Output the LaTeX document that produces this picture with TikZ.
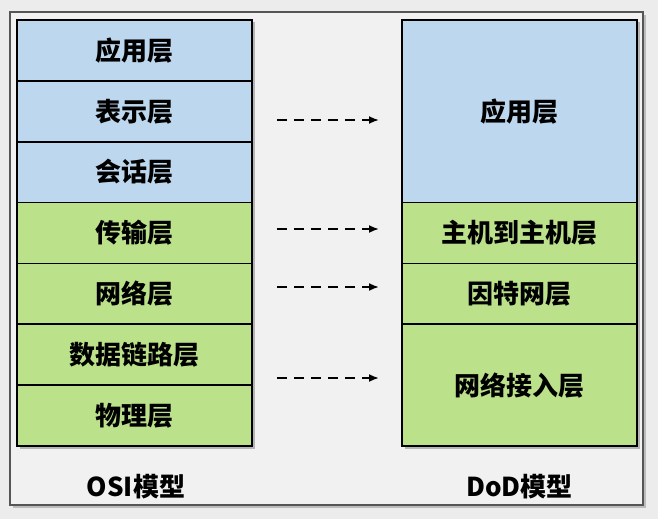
\documentclass[tikz,border=0pt]{standalone}
\usepackage{fontspec}
\setmainfont{Noto Sans CJK SC}[BoldFont={Noto Sans CJK SC Black}]
\usetikzlibrary{arrows.meta}
\definecolor{bluefill}{RGB}{189,215,238}
\definecolor{greenfill}{RGB}{187,226,138}
\definecolor{pagebg}{RGB}{236,236,236}
\definecolor{framebg}{RGB}{241,241,241}
\definecolor{frameline}{RGB}{85,85,85}
\tikzset{
  layer/.style={draw=black, line width=1.8pt, minimum width=235pt, inner sep=0pt,
    font=\fontsize{26}{28}\selectfont\bfseries, anchor=center},
  bluelayer/.style={layer, fill=bluefill},
  greenlayer/.style={layer, fill=greenfill},
  maparrow/.style={line width=1.8pt, dash pattern=on 10pt off 7pt, -{Latex[length=10pt,width=8pt]}},
  caption/.style={font=\fontsize{26}{28}\selectfont\bfseries},
  stackshadow/.style={fill=black, opacity=0.25}
}
\begin{document}
\begin{tikzpicture}[x=1pt,y=-1pt]
\useasboundingbox (0,0) rectangle (658,519);
\fill[pagebg] (0,0) rectangle (658,519);
% outer frame
\fill[black, opacity=0.2] (13,15) rectangle (646,508);
\draw[frameline, fill=framebg, line width=1.4pt] (10,12) rectangle (643,505);
% shadows of stacks
\fill[stackshadow] (19.5,22.5) rectangle (254.5,448.5);
\fill[stackshadow] (404.5,22.5) rectangle (639.5,448.5);
% left stack
\node[bluelayer, minimum height=60.9pt] (app) at (134.5,50.4) {应用层};
\node[bluelayer, minimum height=60.9pt] (pres) at (134.5,111.3) {表示层};
\node[bluelayer, minimum height=60.9pt] (sess) at (134.5,172.1) {会话层};
\node[greenlayer, minimum height=60.9pt] (trans) at (134.5,233) {传输层};
\node[greenlayer, minimum height=60.9pt] (net) at (134.5,293.9) {网络层};
\node[greenlayer, minimum height=60.9pt] (link) at (134.5,354.8) {数据链路层};
\node[greenlayer, minimum height=60.9pt] (phys) at (134.5,415.6) {物理层};
% right stack
\node[bluelayer, minimum height=182.6pt] (dapp) at (519.5,111.3) {应用层};
\node[greenlayer, minimum height=60.9pt] (dhost) at (519.5,233) {主机到主机层};
\node[greenlayer, minimum height=60.9pt] (dnet) at (519.5,293.9) {因特网层};
\node[greenlayer, minimum height=121.8pt] (dacc) at (519.5,385.2) {网络接入层};
% captions
\node[caption] (osi) at (136,487) {OSI模型};
\node[caption] (dod) at (519.5,487) {DoD模型};
% arrows
\coordinate (a1s) at (277,120); \coordinate (a1e) at (379,120);
\coordinate (a2s) at (277,229); \coordinate (a2e) at (379,229);
\coordinate (a3s) at (277,287); \coordinate (a3e) at (379,287);
\coordinate (a4s) at (277,378); \coordinate (a4e) at (379,378);
\draw[maparrow] (a1s) -- (a1e);
\draw[maparrow] (a2s) -- (a2e);
\draw[maparrow] (a3s) -- (a3e);
\draw[maparrow] (a4s) -- (a4e);
\end{tikzpicture}
\end{document}
